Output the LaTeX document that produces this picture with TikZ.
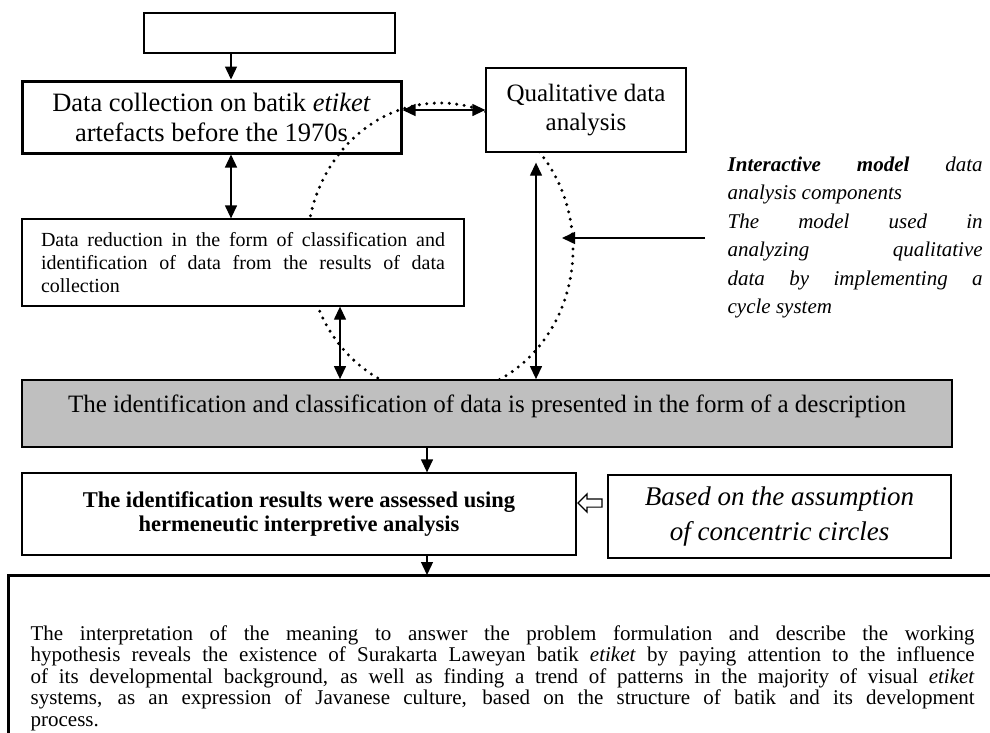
\documentclass[tikz,border=0pt]{standalone}
\usepackage{fontspec}
\setmainfont{Liberation Serif}
\usetikzlibrary{arrows.meta,shapes.arrows}

\begin{document}
\begin{tikzpicture}[x=1pt,y=-1pt,inner sep=0pt,line width=1.3pt,>={Triangle[length=13pt,width=12pt]},
  box/.style={draw,fill=white,line width=1.3pt},
  dots/.style={line width=3.3pt,line cap=round,dash pattern=on 0pt off 7.5pt}]
\useasboundingbox (0,0) rectangle (990,732);
% columns of the vertical arrows
\coordinate (c1) at (231,0);
\coordinate (c2) at (340,0);
\coordinate (c3) at (536,0);
\coordinate (c4) at (427,0);
\node (top) at (269.5,33) [box,minimum width=251pt,minimum height=40pt] {};
\node (coll) at (211.5,117) [box,line width=3pt,minimum width=379pt,minimum height=72pt,align=center,font=\fontsize{26.5}{30}\selectfont] {Data collection on batik \emph{etiket}\\artefacts before the 1970s};
% the cycle
\draw[dots] (440,249) ellipse [x radius=133pt,y radius=146pt];
\node (qual) at (586,110) [box,minimum width=200pt,minimum height=84pt,align=center,font=\fontsize{25}{29}\selectfont] {Qualitative data\\analysis};
\node (red) at (243,262.5) [box,minimum width=442pt,minimum height=87pt,text width=404pt,align=justify,font=\fontsize{20}{23}\selectfont] {Data reduction in the form of classification and\linebreak identification of data from the results of data\linebreak collection};
\node (desc) at (487,413.5) [box,fill=black!25,line width=1.8pt,minimum width=930pt,minimum height=67pt,text depth=20pt,font=\fontsize{25}{28}\selectfont] {The identification and classification of data is presented in the form of a description};
\node (note) at (727,171) [anchor=base west,text width=255pt,align=justify,font=\itshape\fontsize{21}{28.5}\selectfont] {\textbf{Interactive model} data\linebreak analysis components\\The model used in\linebreak analyzing qualitative\linebreak data by implementing a\linebreak cycle system};
\node (herm) at (299,514) [box,minimum width=554pt,minimum height=82pt,align=center,font=\bfseries\fontsize{22.5}{24}\selectfont] {The identification results were assessed using\\hermeneutic interpretive analysis};
\node (conc) at (779.5,516.5) [box,minimum width=343pt,minimum height=83pt,align=center,font=\itshape\fontsize{27}{35}\selectfont] {Based on the assumption\\of concentric circles};
\node (harr) at (592,503) [single arrow,draw,fill=white,line width=1.2pt,shape border rotate=180,inner sep=3.5pt,single arrow head extend=5pt,minimum height=24pt] {};
% open frame of the last step
\coordinate (edge) at (8,575);
\draw[line width=3pt] (8,745) -- (edge) -- (998,575);
\node (interp) at (30,640) [anchor=base west,text width=944pt,align=justify,font=\fontsize{21}{21.5}\selectfont] {The interpretation of the meaning to answer the problem formulation and describe the working\linebreak hypothesis reveals the existence of Surakarta Laweyan batik \emph{etiket} by paying attention to the influence\linebreak of its developmental background, as well as finding a trend of patterns in the majority of visual \emph{etiket}\linebreak systems, as an expression of Javanese culture, based on the structure of batik and its development\linebreak process.};
\coordinate (tip) at (562,238);
\coordinate (tail) at (705,238);
\draw[->] (top.south -| c1) -- (coll.north -| c1);
\draw[<->] (coll.east |- qual.west) -- (qual.west);
\draw[<->] (coll.south -| c1) -- (red.north -| c1);
\draw[<->] (red.south -| c2) -- (desc.north -| c2);
\draw[<->,shorten <=10pt] (qual.south -| c3) -- (desc.north -| c3);
\draw[->] (tail) -- (tip);
\draw[->] (desc.south -| c4) -- (herm.north -| c4);
\draw[->] (herm.south -| c4) -- (c4 |- edge);
\end{tikzpicture}
\end{document}
